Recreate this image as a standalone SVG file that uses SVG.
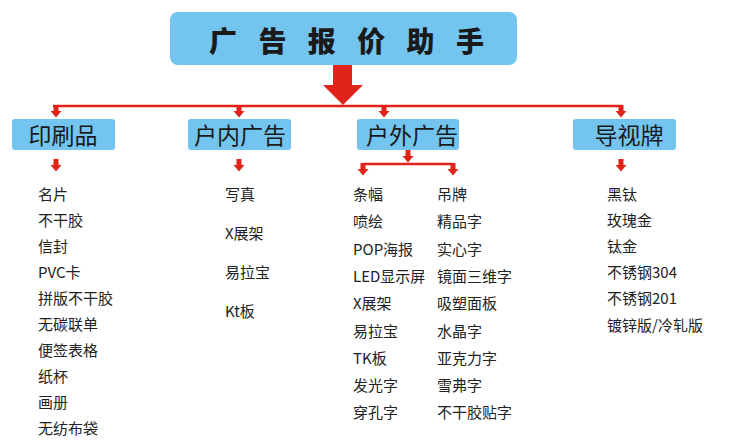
<svg xmlns="http://www.w3.org/2000/svg" width="756" height="446" viewBox="0 0 756 446">
<style>
.box{fill:#73c4ef}
.red{fill:#e2231a}
.ln{stroke:#e2231a;stroke-width:2.5;fill:none}
.title{font-family:"Noto Sans CJK SC","Noto Sans",sans-serif;font-size:28px;font-weight:900;fill:#1a1a1a}
.cat{font-family:"Noto Sans CJK SC","Noto Sans",sans-serif;font-size:23px;fill:#1a1a1a;text-anchor:middle}
.it{font-family:"Noto Sans CJK SC","Noto Sans",sans-serif;font-size:15px;fill:#222}
</style>
<defs>
<path id="sa" d="M-2.5,0 H2.5 V6 H5.5 L0,12.5 L-5.5,6 H-2.5 Z"/>
</defs>
<rect width="756" height="446" fill="#fff"/>
<g id="connectors">
<path class="red" d="M333,64 H352 V85 H363 L343,105 L323,85 H333 Z"/>
<path class="ln" d="M53,106 H623"/>
<use href="#sa" class="red" x="56" y="105"/>
<use href="#sa" class="red" x="239" y="105"/>
<use href="#sa" class="red" x="384" y="105"/>
<use href="#sa" class="red" x="621" y="105"/>
<use href="#sa" class="red" x="56" y="159"/>
<use href="#sa" class="red" x="239" y="159"/>
<use href="#sa" class="red" x="621" y="159"/>
<use href="#sa" class="red" x="408" y="150"/>
<path class="ln" d="M363,164 H453"/>
<use href="#sa" class="red" x="363" y="163"/>
<use href="#sa" class="red" x="453" y="163"/>
</g>
<g id="title">
<rect class="box" x="170" y="12" width="347" height="53" rx="8"/>
<text class="title" x="209" y="52" letter-spacing="21.4">广告报价助手</text>
</g>
<g id="cat-print">
<rect class="box" x="12" y="119" width="103" height="31" rx="3"/>
<text class="cat" x="63" y="144">印刷品</text>
</g>
<g id="cat-indoor">
<rect class="box" x="188" y="119" width="103" height="31" rx="3"/>
<text class="cat" x="240" y="144">户内广告</text>
</g>
<g id="cat-outdoor">
<rect class="box" x="357" y="119" width="102" height="31" rx="3"/>
<text class="cat" x="412" y="144">户外广告</text>
</g>
<g id="cat-sign">
<rect class="box" x="573" y="119" width="103" height="31" rx="3"/>
<text class="cat" x="629" y="144">导视牌</text>
</g>
<g id="list-print" class="it">
<text x="38" y="200">名片</text>
<text x="38" y="226">不干胶</text>
<text x="38" y="252">信封</text>
<text x="38" y="278">PVC卡</text>
<text x="38" y="304">拼版不干胶</text>
<text x="38" y="330">无碳联单</text>
<text x="38" y="356">便签表格</text>
<text x="38" y="382">纸杯</text>
<text x="38" y="408">画册</text>
<text x="38" y="434">无纺布袋</text>
</g>
<g id="list-indoor" class="it">
<text x="225" y="200">写真</text>
<text x="225" y="239">X展架</text>
<text x="225" y="278">易拉宝</text>
<text x="225" y="317">Kt板</text>
</g>
<g id="list-outdoor1" class="it">
<text x="353" y="200">条幅</text>
<text x="353" y="227">喷绘</text>
<text x="353" y="254.5">POP海报</text>
<text x="353" y="282">LED显示屏</text>
<text x="353" y="309">X展架</text>
<text x="353" y="336.5">易拉宝</text>
<text x="353" y="363.5">TK板</text>
<text x="353" y="391">发光字</text>
<text x="353" y="418">穿孔字</text>
</g>
<g id="list-outdoor2" class="it">
<text x="437" y="200">吊牌</text>
<text x="437" y="227">精品字</text>
<text x="437" y="254.5">实心字</text>
<text x="437" y="282">镜面三维字</text>
<text x="437" y="309">吸塑面板</text>
<text x="437" y="336.5">水晶字</text>
<text x="437" y="363.5">亚克力字</text>
<text x="437" y="391">雪弗字</text>
<text x="437" y="418">不干胶贴字</text>
</g>
<g id="list-sign" class="it">
<text x="607" y="199.5">黑钛</text>
<text x="607" y="225.7">玫瑰金</text>
<text x="607" y="251.9">钛金</text>
<text x="607" y="278.1">不锈钢304</text>
<text x="607" y="304.3">不锈钢201</text>
<text x="607" y="330.5">镀锌版/冷轧版</text>
</g>
</svg>
